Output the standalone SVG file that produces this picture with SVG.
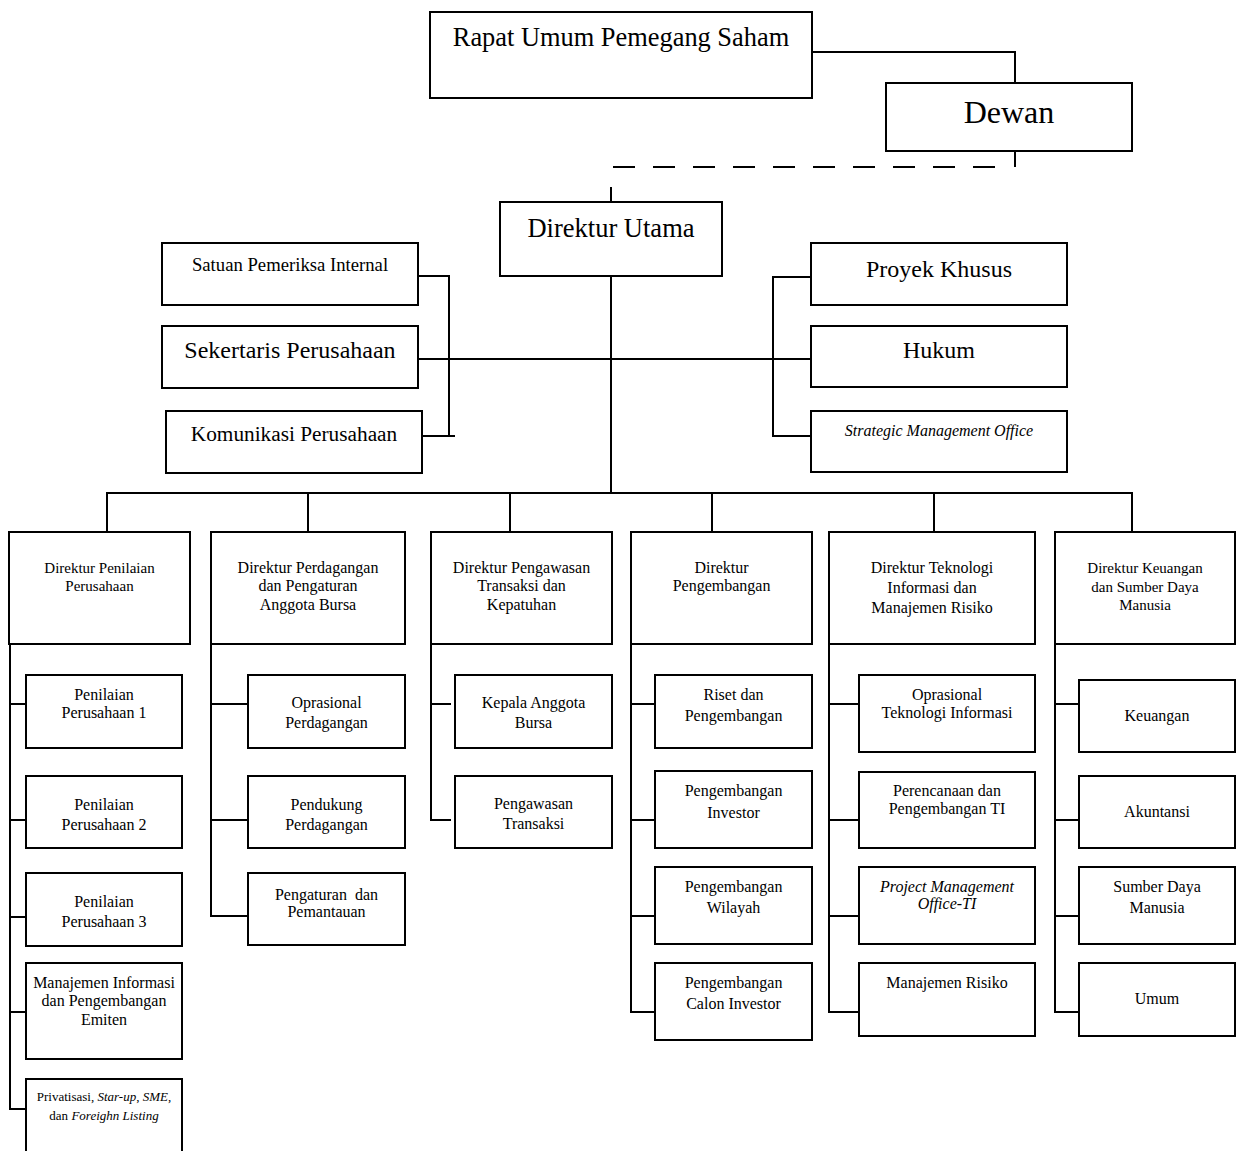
<svg xmlns="http://www.w3.org/2000/svg" width="1236" height="1151" viewBox="0 0 1236 1151">
<style>
.b{fill:#fff;stroke:#000;stroke-width:2}
.c{fill:none;stroke:#000;stroke-width:2}
.d{fill:none;stroke:#000;stroke-width:2;stroke-dasharray:22 18}
text{font-family:"Liberation Serif","Times New Roman",serif;fill:#000;text-anchor:middle}
.s15{font-size:15px}.s16{font-size:16px}.s13{font-size:13px}
.it{font-style:italic}
</style>
<rect width="1236" height="1151" fill="#fff"/>
<g id="connectors">
<path class="c" d="M812 52H1015V83"/>
<path class="c" d="M1015 151V167"/>
<path class="d" d="M995 167H611"/>
<path class="c" d="M611 187V202"/>
<path class="c" d="M611 276V493"/>
<path class="c" d="M418 359H811"/>
<path class="c" d="M418 276H449V436H455M422 436H449"/>
<path class="c" d="M811 277H773V436H811"/>
<path class="c" d="M107 532V493H1132V532M308 493V532M510 493V532M712 493V532M934 493V532"/>
<path class="c" d="M10 644V1109H26M10 704H26M10 820H26M10 917H26M10 1012H26"/>
<path class="c" d="M211 644V916H248M211 704H248M211 820H248"/>
<path class="c" d="M431 644V820H451M431 704H451"/>
<path class="c" d="M631 644V1012H655M631 704H655M631 820H655M631 916H655"/>
<path class="c" d="M829 644V1012H859M829 704H859M829 820H859M829 916H859"/>
<path class="c" d="M1055 644V1012H1079M1055 704H1079M1055 820H1079M1055 916H1079"/>
</g>
<g id="rups"><rect class="b" x="430" y="12" width="382" height="86"/><text x="621" y="46" style="font-size:26.4px">Rapat Umum Pemegang Saham</text></g>
<g id="dewan"><rect class="b" x="886" y="83" width="246" height="68"/><text x="1009" y="123" style="font-size:32px">Dewan</text></g>
<g id="direktur-utama"><rect class="b" x="500" y="202" width="222" height="74"/><text x="611" y="237" style="font-size:26.5px">Direktur Utama</text></g>
<g id="spi"><rect class="b" x="162" y="243" width="256" height="62"/><text x="290" y="271" style="font-size:18.7px">Satuan Pemeriksa Internal</text></g>
<g id="sekper"><rect class="b" x="162" y="326" width="256" height="62"/><text x="290" y="358" style="font-size:24px">Sekertaris Perusahaan</text></g>
<g id="kompers"><rect class="b" x="166" y="411" width="256" height="62"/><text x="294" y="441" style="font-size:21.3px">Komunikasi Perusahaan</text></g>
<g id="proyek"><rect class="b" x="811" y="243" width="256" height="62"/><text x="939" y="277" style="font-size:24px">Proyek Khusus</text></g>
<g id="hukum"><rect class="b" x="811" y="326" width="256" height="61"/><text x="939" y="358" style="font-size:24px">Hukum</text></g>
<g id="smo"><rect class="b" x="811" y="411" width="256" height="61"/><text x="939" y="436" class="s16 it">Strategic Management Office</text></g>

<g id="dir-penilaian"><rect class="b" x="9" y="532" width="181" height="112"/><text x="99.5" class="s15"><tspan x="99.5" y="573">Direktur Penilaian</tspan><tspan x="99.5" y="591">Perusahaan</tspan></text></g>
<g id="dir-perdagangan"><rect class="b" x="211" y="532" width="194" height="112"/><text class="s16"><tspan x="308" y="573">Direktur Perdagangan</tspan><tspan x="308" y="591">dan Pengaturan</tspan><tspan x="308" y="610">Anggota Bursa</tspan></text></g>
<g id="dir-pengawasan"><rect class="b" x="431" y="532" width="181" height="112"/><text class="s16"><tspan x="521.5" y="573">Direktur Pengawasan</tspan><tspan x="521.5" y="591">Transaksi dan</tspan><tspan x="521.5" y="610">Kepatuhan</tspan></text></g>
<g id="dir-pengembangan"><rect class="b" x="631" y="532" width="181" height="112"/><text class="s16"><tspan x="721.5" y="573">Direktur</tspan><tspan x="721.5" y="591">Pengembangan</tspan></text></g>
<g id="dir-ti"><rect class="b" x="829" y="532" width="206" height="112"/><text class="s16"><tspan x="932" y="573">Direktur Teknologi</tspan><tspan x="932" y="593">Informasi dan</tspan><tspan x="932" y="613">Manajemen Risiko</tspan></text></g>
<g id="dir-keuangan"><rect class="b" x="1055" y="532" width="180" height="112"/><text class="s15"><tspan x="1145" y="573">Direktur Keuangan</tspan><tspan x="1145" y="592">dan Sumber Daya</tspan><tspan x="1145" y="610">Manusia</tspan></text></g>

<g id="pp1"><rect class="b" x="26" y="675" width="156" height="73"/><text class="s16"><tspan x="104" y="700">Penilaian</tspan><tspan x="104" y="718">Perusahaan 1</tspan></text></g>
<g id="pp2"><rect class="b" x="26" y="776" width="156" height="72"/><text class="s16"><tspan x="104" y="810">Penilaian</tspan><tspan x="104" y="830">Perusahaan 2</tspan></text></g>
<g id="pp3"><rect class="b" x="26" y="873" width="156" height="73"/><text class="s16"><tspan x="104" y="907">Penilaian</tspan><tspan x="104" y="927">Perusahaan 3</tspan></text></g>
<g id="mipe"><rect class="b" x="26" y="963" width="156" height="96"/><text class="s16"><tspan x="104" y="988">Manajemen Informasi</tspan><tspan x="104" y="1006">dan Pengembangan</tspan><tspan x="104" y="1025">Emiten</tspan></text></g>
<g id="privatisasi"><rect class="b" x="26" y="1079" width="156" height="90"/><text class="s13"><tspan x="104" y="1101">Privatisasi, <tspan class="it">Star-up</tspan>, <tspan class="it">SME</tspan>,</tspan><tspan x="104" y="1120">dan <tspan class="it">Foreighn Listing</tspan></tspan></text></g>

<g id="oprasional-perdagangan"><rect class="b" x="248" y="675" width="157" height="73"/><text class="s16"><tspan x="326.5" y="708">Oprasional</tspan><tspan x="326.5" y="728">Perdagangan</tspan></text></g>
<g id="pendukung-perdagangan"><rect class="b" x="248" y="776" width="157" height="72"/><text class="s16"><tspan x="326.5" y="810">Pendukung</tspan><tspan x="326.5" y="830">Perdagangan</tspan></text></g>
<g id="pengaturan"><rect class="b" x="248" y="873" width="157" height="72"/><text class="s16"><tspan x="326.5" y="900">Pengaturan&#160; dan</tspan><tspan x="326.5" y="917">Pemantauan</tspan></text></g>

<g id="kepala-ab"><rect class="b" x="455" y="675" width="157" height="73"/><text class="s16"><tspan x="533.5" y="708">Kepala Anggota</tspan><tspan x="533.5" y="728">Bursa</tspan></text></g>
<g id="pengawasan-transaksi"><rect class="b" x="455" y="776" width="157" height="72"/><text class="s16"><tspan x="533.5" y="809">Pengawasan</tspan><tspan x="533.5" y="829">Transaksi</tspan></text></g>

<g id="riset"><rect class="b" x="655" y="675" width="157" height="73"/><text class="s16"><tspan x="733.5" y="700">Riset dan</tspan><tspan x="733.5" y="721">Pengembangan</tspan></text></g>
<g id="peng-investor"><rect class="b" x="655" y="771" width="157" height="77"/><text class="s16"><tspan x="733.5" y="796">Pengembangan</tspan><tspan x="733.5" y="818">Investor</tspan></text></g>
<g id="peng-wilayah"><rect class="b" x="655" y="867" width="157" height="77"/><text class="s16"><tspan x="733.5" y="892">Pengembangan</tspan><tspan x="733.5" y="913">Wilayah</tspan></text></g>
<g id="peng-calon"><rect class="b" x="655" y="963" width="157" height="77"/><text class="s16"><tspan x="733.5" y="988">Pengembangan</tspan><tspan x="733.5" y="1009">Calon Investor</tspan></text></g>

<g id="oti"><rect class="b" x="859" y="675" width="176" height="77"/><text class="s16"><tspan x="947" y="700">Oprasional</tspan><tspan x="947" y="718">Teknologi Informasi</tspan></text></g>
<g id="ppti"><rect class="b" x="859" y="772" width="176" height="76"/><text class="s16"><tspan x="947" y="796">Perencanaan dan</tspan><tspan x="947" y="814">Pengembangan TI</tspan></text></g>
<g id="pmo"><rect class="b" x="859" y="867" width="176" height="77"/><text class="s16 it"><tspan x="947" y="892">Project Management</tspan><tspan x="947" y="909">Office-TI</tspan></text></g>
<g id="mr"><rect class="b" x="859" y="963" width="176" height="73"/><text class="s16" x="947" y="988">Manajemen Risiko</text></g>

<g id="keuangan"><rect class="b" x="1079" y="680" width="156" height="72"/><text class="s16" x="1157" y="721">Keuangan</text></g>
<g id="akuntansi"><rect class="b" x="1079" y="776" width="156" height="72"/><text class="s16" x="1157" y="817">Akuntansi</text></g>
<g id="sdm"><rect class="b" x="1079" y="867" width="156" height="77"/><text class="s16"><tspan x="1157" y="892">Sumber Daya</tspan><tspan x="1157" y="913">Manusia</tspan></text></g>
<g id="umum"><rect class="b" x="1079" y="963" width="156" height="73"/><text class="s16" x="1157" y="1004">Umum</text></g>
</svg>
